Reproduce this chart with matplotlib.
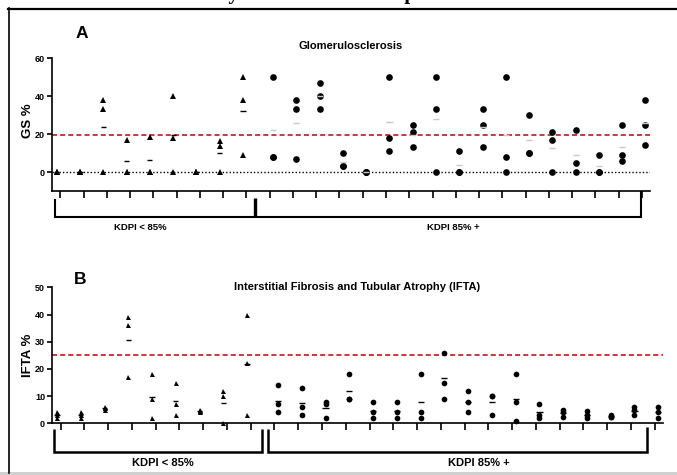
import numpy as np
import matplotlib
matplotlib.use("Agg")
import matplotlib.pyplot as plt
from matplotlib.transforms import blended_transform_factory
from matplotlib.lines import Line2D
from matplotlib.patches import Rectangle

# values per donor (three biopsy readings each)
gs_low = [[0, 0, 0], [0, 0, 0], [38, 33, 0], [17, 0, 0], [18.5, 0, 0],
          [40, 18, 0], [0, 0, 0], [16.5, 13.5, 0], [50, 38, 9]]
gs_high = [[50, 8, 8], [38, 33, 7], [47, 40, 33], [10, 3, 3], [0, 0, 0],
           [50, 18, 11], [25, 21, 13], [50, 33, 0], [11, 0, 0], [33, 25, 13],
           [50, 8, 0], [30, 10, 10], [21, 17, 0], [22, 5, 0], [9, 0, 0],
           [25, 9, 6], [38, 25, 14]]
ifta_low = [[4, 3, 2], [4, 3, 2], [6, 5.5, 5], [39, 36, 17], [18, 9, 2],
            [15, 7, 3], [5, 4.5, 4], [12, 10, 0], [40, 22, 3]]
ifta_high = [[14, 7, 4], [13, 6, 3], [8, 7, 2], [18, 9, 9], [8, 4, 2],
             [8, 4, 2], [18, 4, 2], [26, 15, 9], [12, 8, 4], [10, 10, 3],
             [18, 8, 1], [7, 3, 2], [5, 4, 2.5], [4.5, 3, 2], [3, 2.5, 2.5],
             [6, 5, 3], [6, 4, 2]]
gs_ref = 19.3
ifta_ref = 25
gs_ticks = [0, 20, 40, 60]
ifta_ticks = [0, 10, 20, 30, 40, 50]

plt.rcParams["font.family"] = ["Liberation Sans", "DejaVu Sans"]
plt.rcParams["font.weight"] = "bold"

W, H = 677, 475
fig = plt.figure(figsize=(6.77, 4.75), dpi=100)


def fx(px):
    return px / W


def fy(py):
    return 1 - py / H


def panel(box, low, high, ylim, yticks, ref, high_dash, ms_tri, ms_circ):
    left, top, right, bottom = box
    ax = fig.add_axes([fx(left), fy(bottom), fx(right - left), (bottom - top) / H])
    off = 0.15
    for i, vals in enumerate(low):
        x = i - off
        ax.plot([x] * len(vals), vals, "^", color="black", ms=ms_tri, mew=0, clip_on=False, zorder=3)
        ax.hlines(np.mean(vals), x - 0.11, x + 0.11, color="black", lw=1, zorder=3)
    for j, vals in enumerate(high):
        x = len(low) + j + off
        ax.plot([x] * len(vals), vals, "o", color="black", ms=ms_circ, mew=0, clip_on=False, zorder=3)
        ax.hlines(np.mean(vals), x - 0.13, x + 0.13, color=high_dash, lw=1, zorder=3)
    n = len(low) + len(high)
    ax.axhline(ref, color="#c62828", lw=1.3, ls=(0, (2.8, 1.7)), zorder=2)
    ax.set_xlim(-0.36, 25.35)
    ax.set_ylim(*ylim)
    ax.set_yticks(yticks)
    ax.set_xticks(range(n))
    ax.set_xticklabels([])
    for s in ["top", "right"]:
        ax.spines[s].set_visible(False)
    for s in ["left", "bottom"]:
        ax.spines[s].set_linewidth(1.2)
    ax.tick_params(axis="y", length=3.5, width=1.2, labelsize=6.5, pad=1.5)
    ax.tick_params(axis="x", length=5, width=1.2)
    return ax


def bracket(ax, xs, ys, lw=1.5):
    tr = blended_transform_factory(ax.transData, fig.transFigure)
    ax.plot(xs, [fy(v) for v in ys], color="black", lw=lw, transform=tr,
            clip_on=False, solid_capstyle="butt", solid_joinstyle="miter")


# panel A
axA = panel((52, 58, 650, 191), gs_low, gs_high, (-10, 60), gs_ticks, gs_ref,
            "#c8c8c8", 4.2, 4.8)
axA.axhline(0, color="black", lw=1, ls=(0, (1, 1.5)), zorder=1)
axA.set_ylabel("GS %", fontsize=9.5, fontweight="bold")
axA.yaxis.set_label_coords(-0.03, 0.53)
bracket(axA, [-0.23, -0.23, 8.37], [199, 217, 217])
bracket(axA, [8.37, 8.37], [198, 217], lw=2.4)
bracket(axA, [8.37, 24.97, 24.97], [217, 217, 191])
fig.text(fx(82), fy(34), "A", fontsize=12.5, fontweight="bold", ha="center", va="center")
fig.text(fx(351), fy(46), "Glomerulosclerosis", fontsize=8, fontweight="bold",
         ha="center", va="center")
fig.text(fx(140), fy(228), "KDPI < 85%", fontsize=6.8, fontweight="bold", ha="center", va="center")
fig.text(fx(453), fy(228), "KDPI 85% +", fontsize=6.8, fontweight="bold", ha="center", va="center")

# panel B
axB = panel((52, 287.3, 663, 423.3), ifta_low, ifta_high, (0, 50), ifta_ticks, ifta_ref,
            "black", 3.6, 4.1)
axB.set_ylabel("IFTA %", fontsize=9.5, fontweight="bold")
axB.yaxis.set_label_coords(-0.03, 0.5)
bracket(axB, [-0.27, -0.27, 8.48, 8.48], [429, 452, 452, 429], lw=1.8)
bracket(axB, [8.73, 8.73, 24.68, 24.68], [429, 452, 452, 427], lw=1.8)
fig.text(fx(80), fy(280), "B", fontsize=12.5, fontweight="bold", ha="center", va="center")
fig.text(fx(357), fy(287), "Interstitial Fibrosis and Tubular Atrophy (IFTA)", fontsize=8,
         fontweight="bold", ha="center", va="center")
fig.text(fx(163), fy(463), "KDPI < 85%", fontsize=8, fontweight="bold", ha="center", va="center")
fig.text(fx(479), fy(463), "KDPI 85% +", fontsize=8, fontweight="bold", ha="center", va="center")

# frame around the figure, cropped title above it
fig.text(fx(203), fy(-1.5), "Day 0 Results at Transplant", fontsize=15, fontweight="bold",
         family=["Liberation Serif", "DejaVu Serif"], ha="left", va="baseline")
fig.add_artist(Line2D([fx(8), 1], [fy(8.5), fy(8.5)], color="black", lw=1.6))
fig.add_artist(Line2D([fx(9), fx(9)], [fy(8), fy(473)], color="black", lw=1.2))
fig.add_artist(Rectangle((0, 0), 1, 3 / H, color="#d0d0d0", lw=0))

fig.savefig("out.png", dpi=100)
